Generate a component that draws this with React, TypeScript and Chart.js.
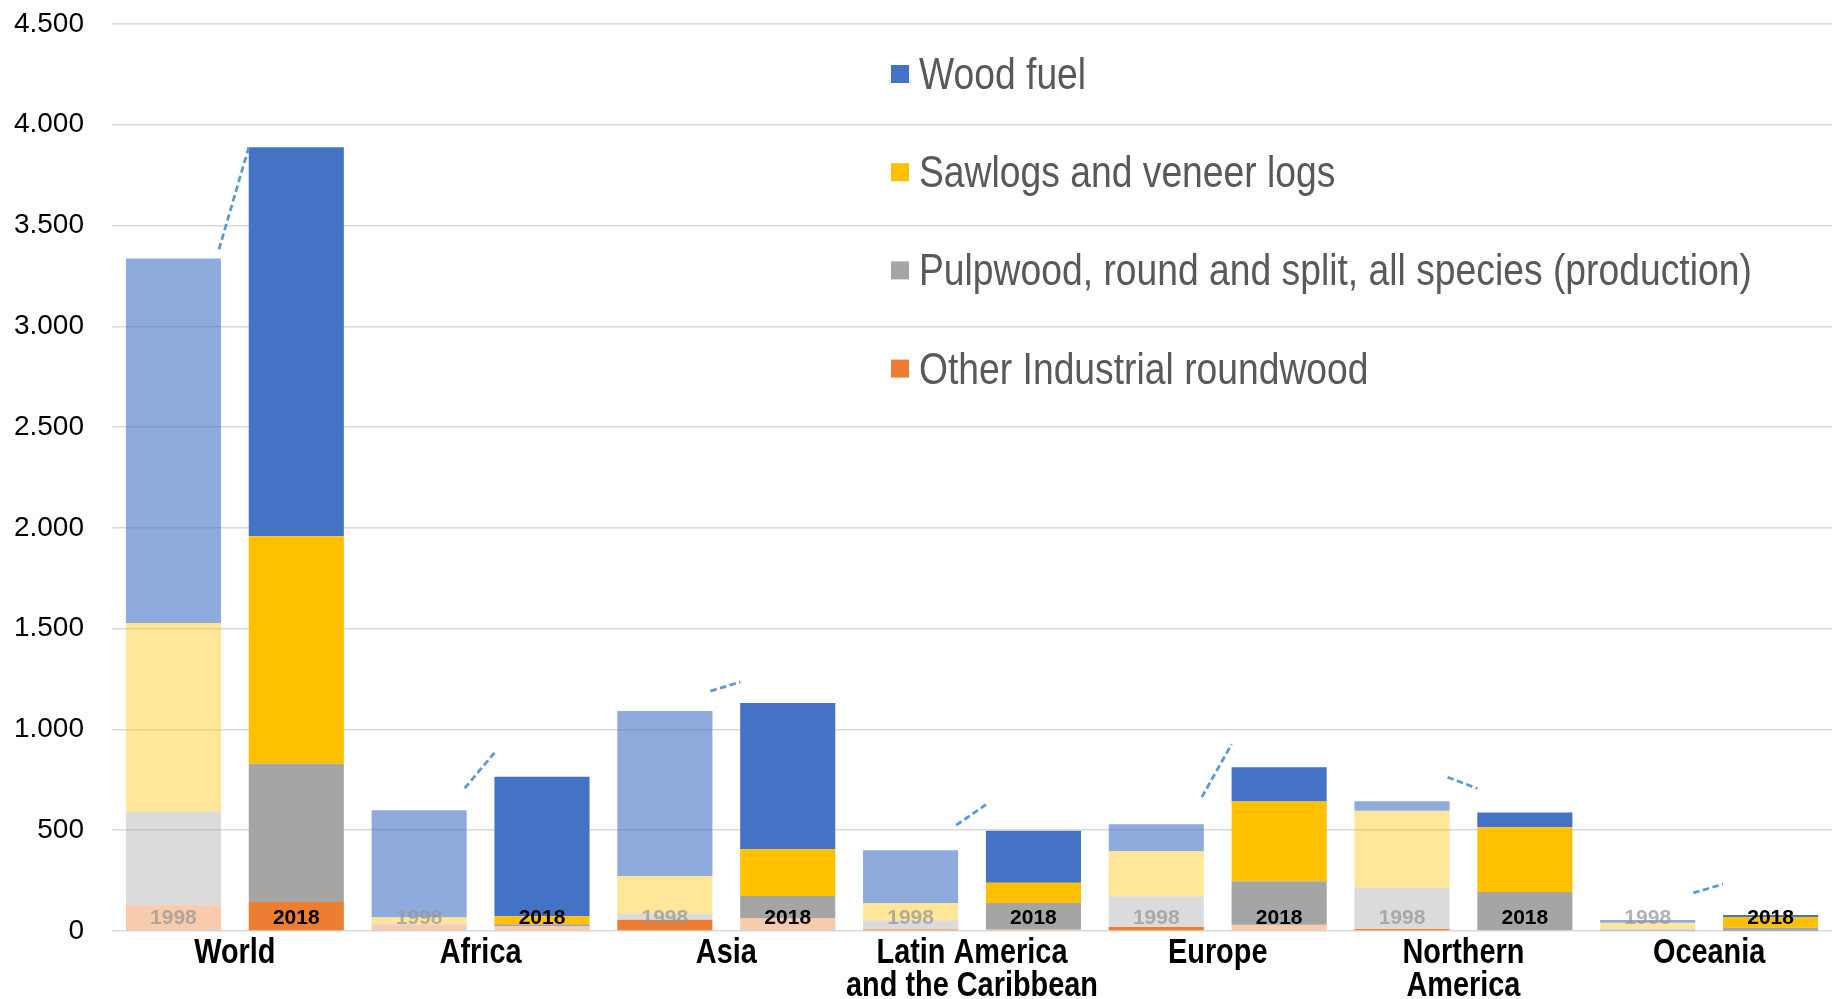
import React, { useEffect, useRef } from 'react';
import { Chart, registerables } from 'chart.js';

Chart.register(...registerables);

// ---------- data ----------
const categories: (string | string[])[] = [
  'World',
  'Africa',
  'Asia',
  ['Latin America', 'and the Caribbean'],
  'Europe',
  ['Northern', 'America'],
  'Oceania',
];
const years = ['1998', '2018'];
const seriesNames = [
  'Wood fuel',
  'Sawlogs and veneer logs',
  'Pulpwood, round and split, all species (production)',
  'Other Industrial roundwood',
];

// 1998 (million m3)
const other1998 = [128, 28, 56, 7, 20, 10, 2];
const pulp1998 = [464, 7, 30, 46, 151, 205, 10];
const saw1998 = [936, 33, 187, 86, 226, 381, 29];
const wood1998 = [1809, 531, 818, 262, 133, 48, 14];

// 2018 (million m3)
const other2018 = [144, 25, 63, 8, 31, 5, 1];
const pulp2018 = [686, 8, 111, 131, 216, 189, 15];
const saw2018 = [1128, 40, 232, 101, 395, 321, 54];
const wood2018 = [1930, 692, 725, 258, 171, 73, 9];

// ---------- styles ----------
const COL_WOOD = '#4472c4';
const COL_SAW = '#ffc000';
const COL_PULP = '#a5a5a5';
const COL_OTHER = '#ed7d31';
const COL_WOOD_L = 'rgba(68,114,196,0.6)';
const COL_SAW_L = 'rgba(255,192,0,0.4)';
const COL_PULP_L = 'rgba(165,165,165,0.4)';
const COL_OTHER_L = 'rgba(237,125,49,0.4)';
// per-bar tone of the "Other Industrial" segment as seen in the source
const otherTone1998 = ['light', 'light', 'dark', 'dark', 'dark', 'dark', 'dark'];
const otherTone2018 = ['dark', 'light', 'light', 'light', 'light', 'light', 'light'];
const toneColor = (t: string) => (t === 'dark' ? COL_OTHER : COL_OTHER_L);

const SANS = "'Liberation Sans', Arial, sans-serif";

// dashed trend connector offsets above the bar tops [start, end] in px
const trendOffsets = [[9, 0], [22, 24], [20, 21], [25, 26], [27, 23], [24, 24], [27, 31]];

const legendColors = [COL_WOOD, COL_SAW, COL_PULP, COL_OTHER];

const fmt = (v: number) => String(v).replace(/\B(?=(\d{3})+(?!\d))/g, '.');

// draw text horizontally condensed (narrow face look)
function narrowText(ctx: any, text: string, x: number, y: number, k: number, align: string) {
  ctx.save();
  ctx.translate(x, y);
  ctx.scale(k, 1);
  ctx.textAlign = align;
  ctx.fillText(text, 0, 0);
  ctx.restore();
}

export default function App() {
  const ref = useRef<HTMLCanvasElement | null>(null);

  useEffect(() => {
    if (!ref.current) return;
    const ds = (label: string, data: number[], color: any, stack: string) => ({
      label,
      data,
      backgroundColor: color,
      borderWidth: 0,
      stack,
      categoryPercentage: 1.0,
      barPercentage: 0.774,
    });
    const datasets = [
      ds(seriesNames[3], other1998, otherTone1998.map(toneColor), 's1998'),
      ds(seriesNames[3], other2018, otherTone2018.map(toneColor), 's2018'),
      ds(seriesNames[2], pulp1998, COL_PULP_L, 's1998'),
      ds(seriesNames[2], pulp2018, COL_PULP, 's2018'),
      ds(seriesNames[1], saw1998, COL_SAW_L, 's1998'),
      ds(seriesNames[1], saw2018, COL_SAW, 's2018'),
      ds(seriesNames[0], wood1998, COL_WOOD_L, 's1998'),
      ds(seriesNames[0], wood2018, COL_WOOD, 's2018'),
    ];

    const overlay = {
      id: 'overlay',
      afterDatasetsDraw(chart: any) {
        const ctx = chart.ctx;
        const area = chart.chartArea;
        // year labels at the bottom of each bar
        ctx.save();
        ctx.font = `bold 21px ${SANS}`;
        ctx.textAlign = 'center';
        ctx.textBaseline = 'middle';
        [0, 1].forEach((k) => {
          const meta = chart.getDatasetMeta(k);
          meta.data.forEach((el: any) => {
            ctx.fillStyle = k === 0 ? 'rgba(150,150,150,0.72)' : '#000000';
            ctx.fillText(years[k], el.x, area.bottom - 13);
          });
        });
        ctx.restore();

        // dashed connectors
        const m98 = chart.getDatasetMeta(6).data;
        const m18 = chart.getDatasetMeta(7).data;
        ctx.save();
        ctx.strokeStyle = '#5b9bd5';
        ctx.lineWidth = 2.8;
        ctx.setLineDash([6.5, 3.5]);
        m98.forEach((a: any, i: number) => {
          const b = m18[i];
          const off = trendOffsets[i];
          ctx.beginPath();
          ctx.moveTo(a.x + a.width / 2 - 2, a.y - off[0]);
          ctx.lineTo(b.x - b.width / 2, b.y - off[1]);
          ctx.stroke();
        });
        ctx.restore();
      },
      afterDraw(chart: any) {
        const ctx = chart.ctx;
        const area = chart.chartArea;
        const xs = chart.scales.x;

        // category labels (condensed bold)
        ctx.save();
        ctx.font = `bold 35px ${SANS}`;
        ctx.fillStyle = '#000000';
        ctx.textBaseline = 'middle';
        categories.forEach((c, i) => {
          const lines = Array.isArray(c) ? c : [c];
          const cx = xs.getPixelForValue(i);
          lines.forEach((ln, j) => {
            narrowText(ctx, ln, cx, area.bottom + 22 + j * 33, 0.825, 'center');
          });
        });
        ctx.restore();

        // legend
        ctx.save();
        const boxX = 891;
        const textX = 919;
        const firstY = 74;
        const gap = 98.2;
        ctx.font = `44px ${SANS}`;
        ctx.textBaseline = 'alphabetic';
        seriesNames.forEach((name, i) => {
          const cy = firstY + gap * i;
          ctx.fillStyle = legendColors[i];
          ctx.fillRect(boxX, cy - 9, 18, 18);
          ctx.fillStyle = '#595959';
          narrowText(ctx, name, textX, cy + 15, 0.847, 'left');
        });
        ctx.restore();
      },
    };

    const chart = new Chart(ref.current, {
      type: 'bar',
      data: { labels: categories as any, datasets },
      options: {
        animation: false,
        responsive: false,
        devicePixelRatio: 1,
        layout: { padding: { top: 24, left: 0, right: 0, bottom: 0 } },
        plugins: { legend: { display: false }, tooltip: { enabled: false } },
        scales: {
          x: {
            stacked: true,
            grid: { display: false, drawTicks: false },
            border: { display: false },
            ticks: {
              color: 'rgba(0,0,0,0)',
              font: { family: SANS, size: 35, weight: 'bold', lineHeight: 1.0 },
              padding: 4,
              maxRotation: 0,
              autoSkip: false,
            },
          },
          y: {
            stacked: true,
            min: 0,
            max: 4500,
            grid: { color: '#d9d9d9', lineWidth: 1.5, drawTicks: false },
            border: { display: false },
            afterFit: (s: any) => {
              s.width = 112;
              s.paddingTop = 0;
              s.paddingBottom = 0;
            },
            ticks: {
              stepSize: 500,
              color: '#000000',
              padding: 28,
              font: { family: SANS, size: 28 },
              callback: (v: any) => fmt(Number(v)),
            },
          },
        },
      },
      plugins: [overlay],
    });
    return () => chart.destroy();
  }, []);

  return (
    <div
      style={{
        position: 'fixed',
        left: 0,
        top: 0,
        width: 1832,
        height: 999,
        overflow: 'hidden',
        background: '#ffffff',
      }}
    >
      <canvas ref={ref} width={1832} height={1009} style={{ display: 'block' }} />
    </div>
  );
}
